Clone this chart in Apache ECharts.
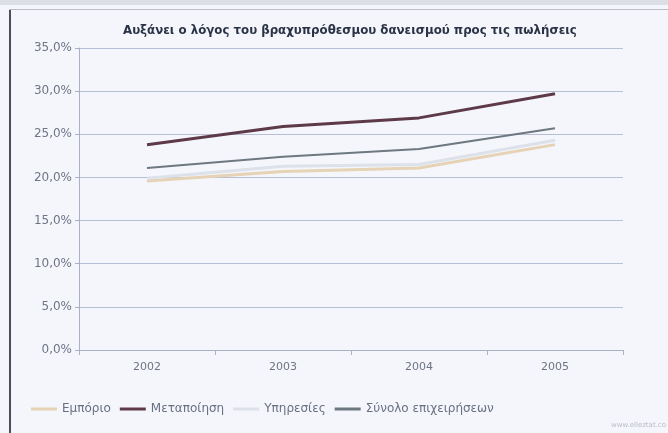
<!DOCTYPE html>
<html>
<head>
<meta charset="utf-8">
<script src="https://cdn.jsdelivr.net/npm/echarts@6/dist/echarts.min.js"></script>
<style>
  html, body { margin: 0; padding: 0; background: #f4f6fb; }
  #chart { width: 668px; height: 433px; }
</style>
</head>
<body>
<div id="chart"></div>
<script>
// values (percent)
const years = ['2002', '2003', '2004', '2005']
const emporio = [19.6, 20.7, 21.1, 23.8]
const metapoiisi = [23.8, 25.9, 26.9, 29.7]
const ypiresies = [19.9, 21.3, 21.5, 24.3]
const synolo = [21.1, 22.4, 23.3, 25.7]
const yTicks = [0, 5, 10, 15, 20, 25, 30, 35]

const font = 'DejaVu Sans'

function fmtPct (v) {
  return v.toFixed(1).replace('.', ',') + '%'
}

function lineSeries (name, data, color, width) {
  return {
    name: name,
    type: 'line',
    data: data,
    symbol: 'none',
    smooth: false,
    lineStyle: { color: color, width: width },
    itemStyle: { color: color }
  }
}

let option = {
  backgroundColor: '#f4f6fb',
  animation: false,
  title: {
    text: 'Αυξάνει ο λόγος του βραχυπρόθεσμου δανεισμού προς τις πωλήσεις',
    left: 118,
    top: 20,
    textStyle: { fontFamily: font, fontSize: 11.8, fontWeight: 'bold', color: '#2a3346' }
  },
  legend: {
    left: 26,
    bottom: 13,
    itemWidth: 26,
    itemHeight: 3,
    itemGap: 9,
    icon: 'rect',
    textStyle: { fontFamily: font, fontSize: 12, color: '#6a7080' },
    data: ['Εμπόριο', 'Μεταποίηση', 'Υπηρεσίες', 'Σύνολο επιχειρήσεων']
  },
  grid: { left: 79, right: 45, top: 48, bottom: 83 },
  xAxis: {
    type: 'category',
    data: years,
    boundaryGap: true,
    axisLine: { lineStyle: { color: '#a9b1c6' } },
    axisTick: { show: true, lineStyle: { color: '#a9b1c6' } },
    axisLabel: { fontFamily: font, fontSize: 11, color: '#6f7585', margin: 12 }
  },
  yAxis: {
    type: 'value',
    min: yTicks[0],
    max: yTicks[yTicks.length - 1],
    interval: 5,
    axisLine: { show: true, lineStyle: { color: '#a9b1c6' } },
    axisTick: { show: true, length: 4, lineStyle: { color: '#a9b1c6' } },
    axisLabel: { fontFamily: font, fontSize: 12, color: '#6f7585', margin: 7, formatter: fmtPct },
    splitLine: { lineStyle: { color: '#b7bfd4', width: 1 } }
  },
  series: [
    lineSeries('Εμπόριο', emporio, '#e6d2b4', 3),
    lineSeries('Μεταποίηση', metapoiisi, '#5e3a48', 3),
    lineSeries('Υπηρεσίες', ypiresies, '#dde1ea', 3),
    lineSeries('Σύνολο επιχειρήσεων', synolo, '#6e7880', 2)
  ],
  graphic: [
    { type: 'rect', left: 0, top: 0, shape: { width: 668, height: 5 }, style: { fill: '#dcdfe6' } },
    { type: 'rect', left: 9, top: 9, shape: { width: 2, height: 424 }, style: { fill: '#4a4f5a' } },
    { type: 'rect', left: 9, top: 9, shape: { width: 659, height: 1 }, style: { fill: '#b9bdc7' } },
    {
      type: 'text',
      right: 2,
      bottom: 4,
      style: { text: 'www.elleztat.co', fill: '#b8bcc6', font: '7px ' + font }
    }
  ]
}

let chart = echarts.init(document.getElementById('chart'))
chart.setOption(option)
</script>
</body>
</html>
